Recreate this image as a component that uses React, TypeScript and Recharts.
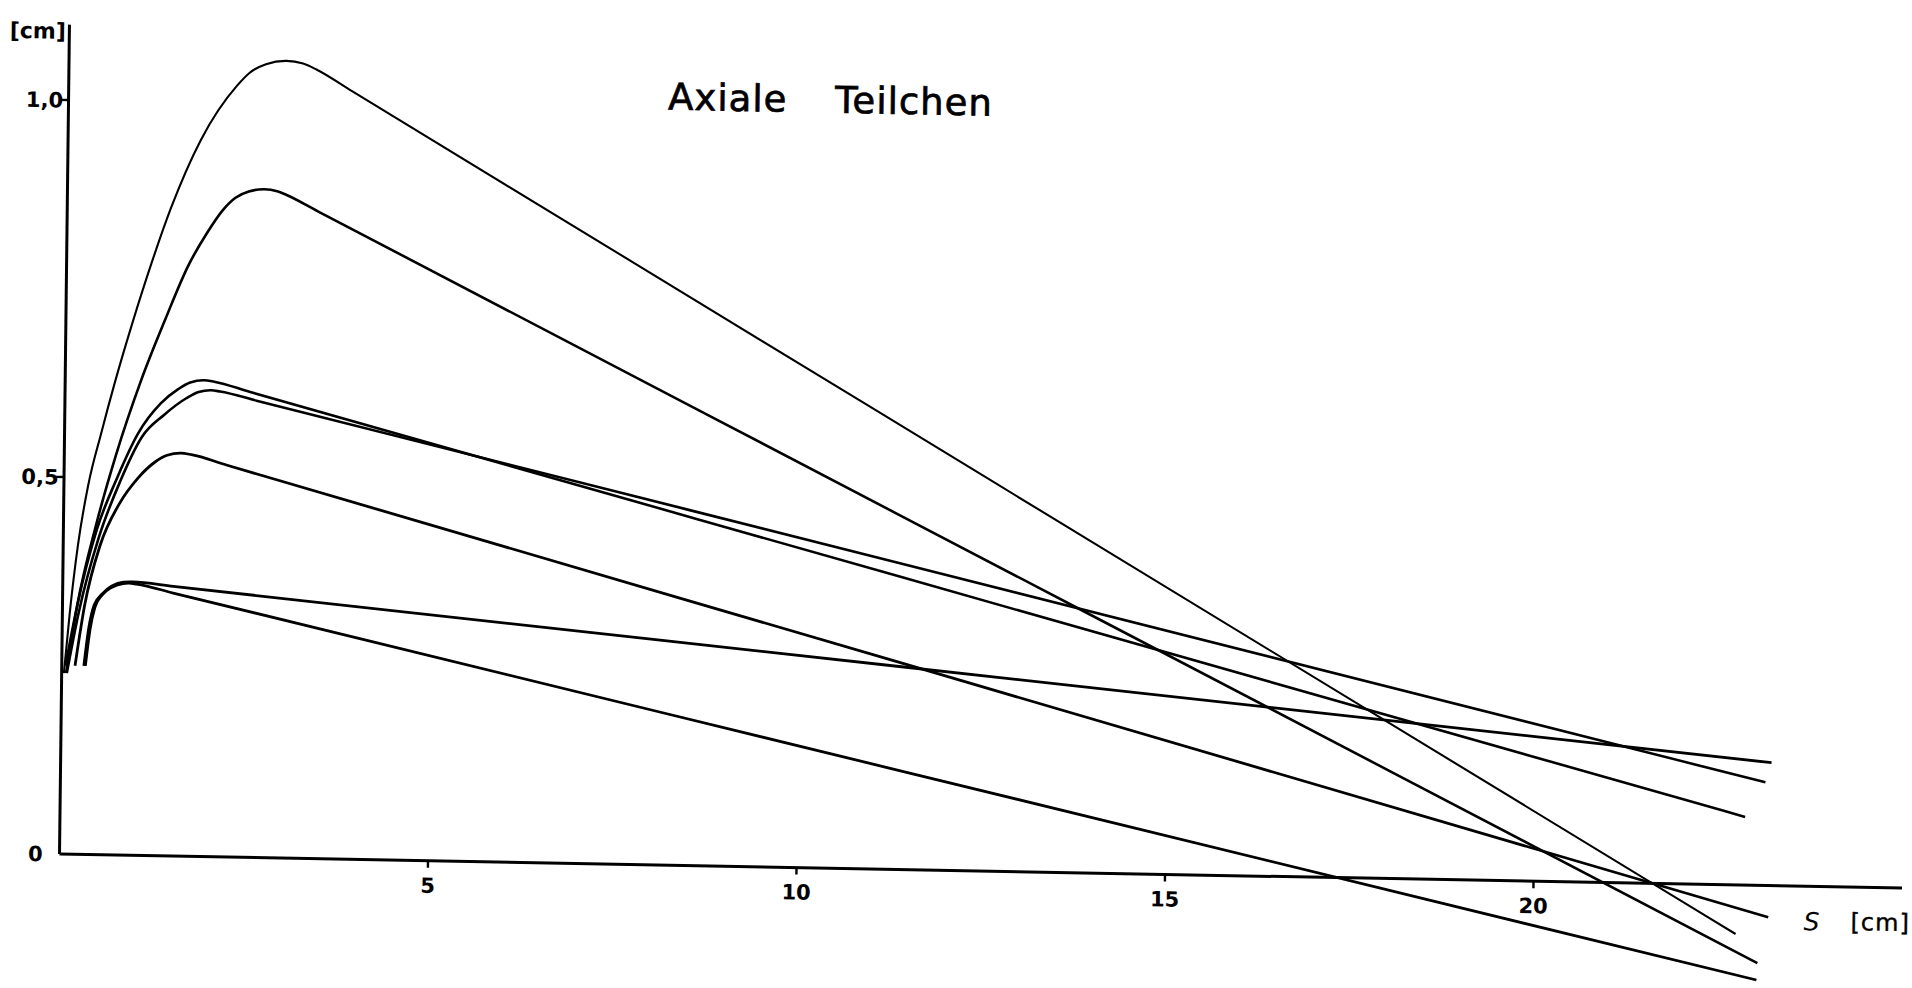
import React from 'react';
import { LineChart, Line, XAxis, YAxis, ReferenceLine } from 'recharts';

// ---- data (s in cm, h in cm) ----
const curve1S = [0.03, 0.1, 0.2, 0.33, 0.5, 0.67, 0.9, 1.15, 1.41, 1.8, 2.284, 2.45, 2.6727, 2.9512, 3.1756, 3.3633, 3.85, 12.43, 22.75];
const curve1H = [0.24, 0.32, 0.41, 0.49, 0.56, 0.625, 0.705, 0.785, 0.86, 0.95, 1.0232, 1.0403, 1.0524, 1.0572, 1.0541, 1.0462, 1.0183, 0.5265, -0.065];

const curve2S = [0.06, 0.2, 0.45, 0.7, 1.03, 1.35, 1.65, 1.9, 2.1141, 2.2807, 2.4602, 2.6699, 2.8455, 2.9737, 3.4, 11.34, 18.15, 23.05];
const curve2H = [0.24, 0.33, 0.44, 0.53, 0.63, 0.712, 0.783, 0.827, 0.8581, 0.8744, 0.8832, 0.8864, 0.8842, 0.8794, 0.8585, 0.47, 0.1368, -0.103];

const curve3S = [0.05, 0.2, 0.45, 0.72, 1.0, 1.3, 1.5345, 1.6976, 1.8832, 2.0223, 2.5, 11.34, 22.86];
const curve3H = [0.25, 0.33, 0.43, 0.5, 0.56, 0.6, 0.6193, 0.6285, 0.6317, 0.63, 0.6176, 0.3887, 0.0905];

const curve4S = [0.07, 0.22, 0.48, 0.76, 1.05, 1.35, 1.6455, 1.8118, 1.9795, 2.103, 2.6, 11.34, 23.13];
const curve4H = [0.24, 0.32, 0.42, 0.495, 0.555, 0.585, 0.6074, 0.616, 0.6186, 0.6172, 0.6059, 0.4063, 0.137];

const curve5S = [0.18, 0.3, 0.5, 0.75, 1.0, 1.232, 1.3954, 1.581, 1.7245, 2.2, 11.34, 23.19];
const curve5H = [0.25, 0.33, 0.41, 0.465, 0.5, 0.5221, 0.5313, 0.5345, 0.5327, 0.5199, 0.2752, -0.042];

const curve6S = [0.3, 0.36, 0.43, 0.5402, 0.6666, 0.8216, 0.9475, 1.5, 11.36, 23.21];
const curve6H = [0.25, 0.3, 0.331, 0.3462, 0.3566, 0.3621, 0.3626, 0.3576, 0.2692, 0.163];

const curve7S = [0.32, 0.38, 0.44, 0.5339, 0.6604, 0.8153, 0.8978, 1.0023, 1.5, 11.38, 23.04];
const curve7H = [0.25, 0.3, 0.328, 0.3443, 0.3547, 0.3602, 0.3609, 0.3598, 0.3488, 0.1312, -0.1255];

const xTicks = [5, 10, 15, 20];
const yTicks = [0, 0.5, 1.0];
const yTickLabels = ['0', '0,5', '1,0'];

const titleWords = ['Axiale', 'Teilchen'];
const yUnitLabel = '[cm]';
const xVarLabel = 'S';
const xUnitLabel = '[cm]';

const curves = [
  { id: 'k1', s: curve1S, h: curve1H, w: 2.1 },
  { id: 'k2', s: curve2S, h: curve2H, w: 2.6 },
  { id: 'k3', s: curve3S, h: curve3H, w: 2.6 },
  { id: 'k4', s: curve4S, h: curve4H, w: 2.6 },
  { id: 'k5', s: curve5S, h: curve5H, w: 2.8 },
  { id: 'k6', s: curve6S, h: curve6H, w: 2.8 },
  { id: 'k7', s: curve7S, h: curve7H, w: 2.8 },
];

// ---- layout ----
const CHART_W = 1896;
const CHART_H = 1000;
const PLOT_LEFT = 51.5;
const PLOT_TOP = 16.6;
const PLOT_W = 1842.5;
const Y_MIN = -0.16;
const Y_MAX = 1.1;
const PLOT_H = 950;
const X_AXIS_H = 30;
const ZERO_Y = PLOT_TOP + PLOT_H * (Y_MAX / (Y_MAX - Y_MIN));
const FONT = '"DejaVu Sans", "Liberation Sans", sans-serif';

const XTick = (props: any) => {
  const { x, payload } = props;
  return (
    <g>
      <line x1={x} y1={ZERO_Y} x2={x} y2={ZERO_Y + 7} stroke="#000" strokeWidth={2.4} />
      <text x={x} y={ZERO_Y + 32} textAnchor="middle" fontFamily={FONT} fontWeight="bold" fontSize={21} fill="#000">
        {payload.value}
      </text>
    </g>
  );
};

const YTick = (props: any) => {
  const { y, payload } = props;
  const idx = yTicks.indexOf(payload.value);
  const label = idx >= 0 ? yTickLabels[idx] : String(payload.value);
  return (
    <g>
      {payload.value !== 0 && (
        <line x1={PLOT_LEFT - 8} y1={y} x2={PLOT_LEFT} y2={y} stroke="#000" strokeWidth={2.4} />
      )}
      <text x={PLOT_LEFT - 24} y={y} dy="0.36em" textAnchor="middle" fontFamily={FONT} fontWeight="bold" fontSize={21} fill="#000">
        {label}
      </text>
    </g>
  );
};

export default function App() {
  return (
    <div style={{ position: 'fixed', left: 0, top: 0, width: 1912, height: 988, overflow: 'hidden', background: '#fff' }}>
      <div
        style={{
          position: 'absolute',
          left: 8,
          top: 8,
          width: CHART_W,
          height: CHART_H,
          transformOrigin: `${PLOT_LEFT}px ${ZERO_Y}px`,
          transform: 'matrix(1, 0.0185, -0.012, 1, 0, 0)',
        }}
      >
        <LineChart
          width={CHART_W}
          height={CHART_H}
          margin={{
            top: PLOT_TOP,
            right: CHART_W - PLOT_LEFT - PLOT_W,
            bottom: CHART_H - PLOT_TOP - PLOT_H - X_AXIS_H,
            left: 0,
          }}
        >
          <XAxis
            type="number"
            dataKey="s"
            domain={[0, 25]}
            ticks={xTicks}
            height={X_AXIS_H}
            axisLine={false}
            tickLine={false}
            tick={<XTick />}
            interval={0}
            allowDataOverflow
          />
          <YAxis
            type="number"
            domain={[Y_MIN, Y_MAX]}
            ticks={yTicks}
            width={PLOT_LEFT}
            axisLine={false}
            tickLine={false}
            tick={<YTick />}
            interval={0}
            allowDataOverflow
          />
          <ReferenceLine y={0} stroke="#000" strokeWidth={3} />
          <ReferenceLine segment={[{ x: 0, y: 0 }, { x: 0, y: Y_MAX }]} stroke="#000" strokeWidth={3} />
          {curves.map((c) => (
            <Line
              key={c.id}
              data={c.s.map((s, i) => ({ s, h: c.h[i] }))}
              dataKey="h"
              type="monotone"
              stroke="#000"
              strokeWidth={c.w}
              dot={false}
              activeDot={false}
              isAnimationActive={false}
            />
          ))}
        </LineChart>
        <svg
          width={CHART_W}
          height={CHART_H}
          style={{ position: 'absolute', left: 0, top: 0, overflow: 'visible', pointerEvents: 'none' }}
        >
          <text x={651} y={90.5} fontFamily={FONT} fontSize={37} letterSpacing={1} fill="#000" stroke="#000" strokeWidth={0.7}>{titleWords[0]}</text>
          <text x={818} y={90.5} fontFamily={FONT} fontSize={37} letterSpacing={1} fill="#000" stroke="#000" strokeWidth={0.7}>{titleWords[1]}</text>
          <text x={20} y={31} textAnchor="middle" fontFamily={FONT} fontWeight="bold" fontSize={22} fill="#000">{yUnitLabel}</text>
          <text x={1796} y={890} fontFamily={FONT} fontStyle="italic" fontSize={25} fill="#000">{xVarLabel}</text>
          <text x={1843} y={889} fontFamily={FONT} fontSize={24} letterSpacing={1} fill="#000" stroke="#000" strokeWidth={0.4}>{xUnitLabel}</text>
        </svg>
      </div>
    </div>
  );
}
